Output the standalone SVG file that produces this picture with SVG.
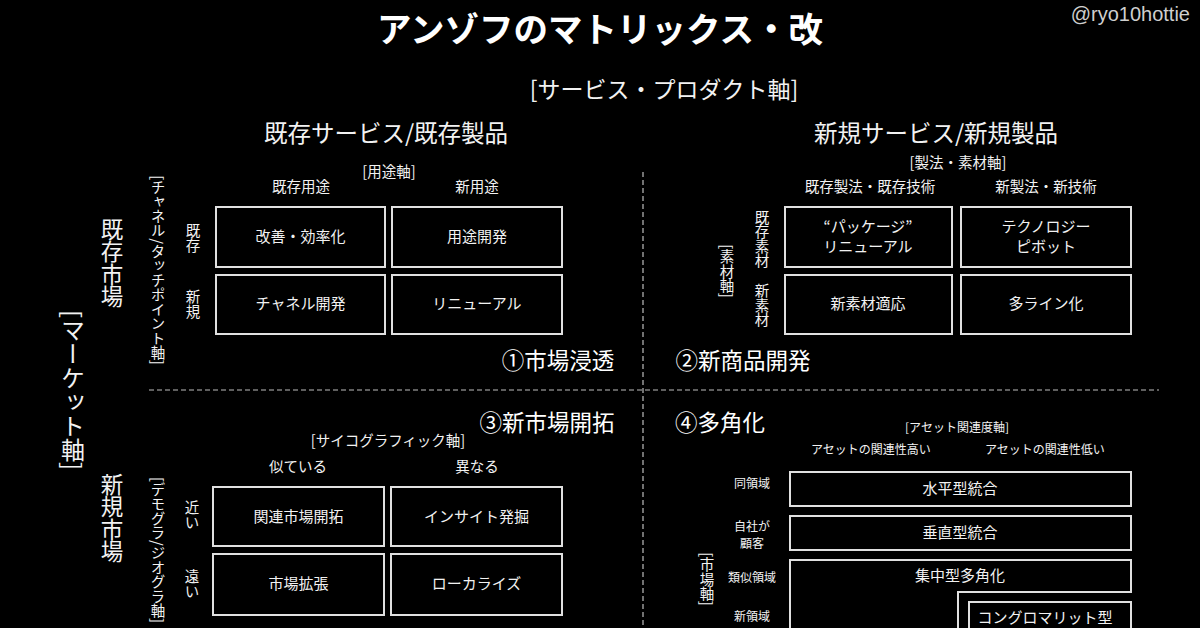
<svg xmlns="http://www.w3.org/2000/svg" width="1200" height="628" viewBox="0 0 1200 628">
<defs>
<style>
text{font-family:"Noto Sans CJK JP","Noto Sans CJK SC",sans-serif;fill:#f2f2f2;dominant-baseline:central;text-anchor:middle}
text.h{transform:translateY(-2px)}
.title{font-size:34.5px;font-weight:bold;fill:#fff}
.handle{font-family:"Liberation Sans","Noto Sans",sans-serif;font-size:20px;fill:#cfcfcf;text-anchor:end}
.axis{font-size:23px}
.head{font-size:23.5px}
.quad{font-size:22.5px;fill:#fff}
.lbl{font-size:14.5px}
.sm{font-size:12px}
.bx{font-size:15px}
.v{writing-mode:vertical-rl;dominant-baseline:auto}
.box{fill:none;stroke:#e0e0e0;stroke-width:2}
.dash{stroke:#bdbdbd;stroke-width:1.2;stroke-dasharray:5 3;fill:none}
</style>
</defs>
<rect width="1200" height="628" fill="#000"/>

<g id="connectors">
<line class="dash" x1="149" y1="390" x2="1159" y2="390"/>
<line class="dash" x1="643" y1="172" x2="643" y2="628"/>
</g>

<g id="header">
<text class="title" x="600" y="27">アンゾフのマトリックス・改</text>
<text class="h handle" x="1190" y="16">@ryo10hottie</text>
<text class="h axis" x="664" y="90">[サービス・プロダクト軸]</text>
<text class="h head" x="386" y="134">既存サービス/既存製品</text>
<text class="h head" x="936" y="134">新規サービス/新規製品</text>
</g>

<g id="market-axis">
<text class="v" x="112" y="263" style="font-size:22.5px">既存市場</text>
<text class="v" x="112" y="518" style="font-size:22.5px">新規市場</text>
<text class="v" x="73" y="390" style="font-size:24px">[マーケット軸]</text>
</g>

<g id="q1">
<text class="h lbl" x="389" y="172">[用途軸]</text>
<text class="h lbl" x="301" y="187">既存用途</text>
<text class="h lbl" x="477" y="187">新用途</text>
<text class="v lbl" x="158" y="270">[チャネル/タッチポイント軸]</text>
<text class="v lbl" x="193" y="238">既存</text>
<text class="v lbl" x="193" y="304">新規</text>
<g id="q1-a"><rect class="box" x="216" y="207" width="169" height="60"/><text class="h bx" x="300.5" y="237.5">改善・効率化</text></g>
<g id="q1-b"><rect class="box" x="392" y="207" width="170" height="60"/><text class="h bx" x="477" y="237.5">用途開発</text></g>
<g id="q1-c"><rect class="box" x="216" y="275" width="169" height="59"/><text class="h bx" x="300.5" y="304.5">チャネル開発</text></g>
<g id="q1-d"><rect class="box" x="392" y="275" width="170" height="59"/><text class="h bx" x="477" y="304.5">リニューアル</text></g>
<text class="h quad" x="558" y="361">①市場浸透</text>
</g>

<g id="q2">
<text class="h lbl" x="958" y="163">[製法・素材軸]</text>
<text class="h lbl" x="870" y="187">既存製法・既存技術</text>
<text class="h lbl" x="1046" y="187">新製法・新技術</text>
<text class="v lbl" x="727" y="271">[素材軸]</text>
<text class="v lbl" x="762" y="239">既存素材</text>
<text class="v lbl" x="762" y="305">新素材</text>
<g id="q2-a"><rect class="box" x="785" y="207" width="167" height="60"/><text class="h bx" x="868" y="227">“パッケージ”</text><text class="h bx" x="868" y="247">リニューアル</text></g>
<g id="q2-b"><rect class="box" x="961" y="207" width="170" height="60"/><text class="h bx" x="1046" y="227">テクノロジー</text><text class="h bx" x="1046" y="247">ピボット</text></g>
<g id="q2-c"><rect class="box" x="785" y="275" width="167" height="59"/><text class="h bx" x="868" y="304.5">新素材適応</text></g>
<g id="q2-d"><rect class="box" x="961" y="275" width="170" height="59"/><text class="h bx" x="1046" y="304.5">多ライン化</text></g>
<text class="h quad" x="743" y="361">②新商品開発</text>
</g>

<g id="q3">
<text class="h quad" x="547" y="423">③新市場開拓</text>
<text class="h lbl" x="388" y="441">[サイコグラフィック軸]</text>
<text class="h lbl" x="298" y="467">似ている</text>
<text class="h lbl" x="477" y="467">異なる</text>
<text class="v lbl" x="158" y="477" style="text-anchor:start">[デモグラ/ジオグラ軸]</text>
<text class="v lbl" x="192" y="515">近い</text>
<text class="v lbl" x="192" y="584">遠い</text>
<g id="q3-a"><rect class="box" x="213" y="487" width="171" height="59"/><text class="h bx" x="298.5" y="517">関連市場開拓</text></g>
<g id="q3-b"><rect class="box" x="391" y="487" width="171" height="59"/><text class="h bx" x="476.5" y="517">インサイト発掘</text></g>
<g id="q3-c"><rect class="box" x="213" y="554" width="171" height="61"/><text class="h bx" x="298.5" y="584">市場拡張</text></g>
<g id="q3-d"><rect class="box" x="391" y="554" width="171" height="61"/><text class="h bx" x="476.5" y="584">ローカライズ</text></g>
</g>

<g id="q4">
<text class="h quad" x="720" y="423">④多角化</text>
<text class="h sm" x="957" y="428">[アセット関連度軸]</text>
<text class="h sm" x="871" y="450">アセットの関連性高い</text>
<text class="h sm" x="1045" y="450">アセットの関連性低い</text>
<text class="v lbl" x="707" y="579">[市場軸]</text>
<text class="h sm" x="752" y="484">同領域</text>
<text class="h sm" x="752" y="527">自社が</text>
<text class="h sm" x="752" y="544">顧客</text>
<text class="h sm" x="752" y="578">類似領域</text>
<text class="h sm" x="752" y="617">新領域</text>
<g id="q4-a"><rect class="box" x="790" y="472" width="341" height="34"/><text class="h bx" x="960" y="489">水平型統合</text></g>
<g id="q4-b"><rect class="box" x="790" y="516" width="341" height="34"/><text class="h bx" x="960" y="533">垂直型統合</text></g>
<g id="q4-c"><path class="box" d="M790,640 V560 H1131 V592 H958 V640"/><text class="h bx" x="960" y="576">集中型多角化</text></g>
<g id="q4-d"><rect class="box" x="969" y="602" width="162" height="50"/><text class="h bx" x="1045" y="618">コングロマリット型</text></g>
</g>
</svg>
